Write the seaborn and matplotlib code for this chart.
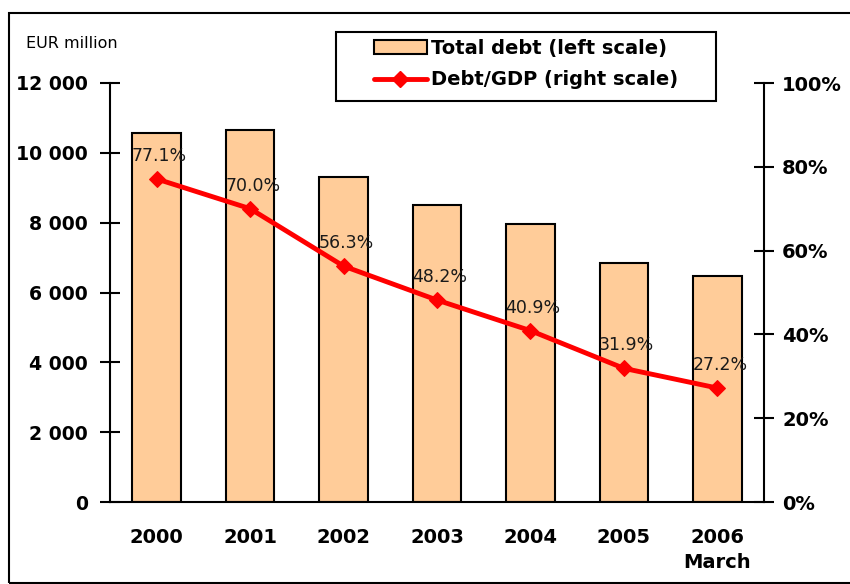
import matplotlib
matplotlib.use("Agg")
import matplotlib.pyplot as plt
import seaborn as sns
import pandas as pd
from matplotlib.patches import Rectangle, Patch
from matplotlib.lines import Line2D

years = ["2000", "2001", "2002", "2003", "2004", "2005", "2006\nMarch"]
total_debt = [10570, 10660, 9310, 8510, 7965, 6850, 6475]
debt_gdp = [77.1, 70.0, 56.3, 48.2, 40.9, 31.9, 27.2]
left_ticks = [0, 2000, 4000, 6000, 8000, 10000, 12000]
right_ticks = [0, 20, 40, 60, 80, 100]

sns.set_style("white")
plt.rcParams['font.family'] = ['DejaVu Sans']
plt.rcParams['text.color'] = 'black'
plt.rcParams['xtick.color'] = 'black'
plt.rcParams['ytick.color'] = 'black'
plt.rcParams['axes.labelcolor'] = 'black'

df = pd.DataFrame({"year": years, "debt": total_debt, "ratio": debt_gdp})

fig = plt.figure(figsize=(8.5, 5.84), dpi=100)
ax = fig.add_axes([110/850, 1-502/584, (764-110)/850, (502-83)/584])

sns.barplot(data=df, x="year", y="debt", ax=ax, color="#FFCC99", saturation=1,
            edgecolor="black", linewidth=1.5, width=0.52)
ax.set_xlim(-0.5, 6.5)
ax.set_ylim(0, 12000)
ax.set_yticks(left_ticks)
ax.set_yticklabels([f"{v:,}".replace(",", " ") for v in left_ticks],
                   fontsize=13.6, fontweight="bold")
ax.set_xlabel("")
ax.set_ylabel("")
ax.tick_params(axis="y", direction="inout", length=14, width=1.5, pad=9, colors="black")
ax.set_xticks(range(len(years)))
ax.set_xticklabels(years, fontsize=14, fontweight="bold", linespacing=1.45)
ax.tick_params(axis="x", which="major", length=0, pad=18.5, colors="black")
ax.set_xticks([i - 0.5 for i in range(len(years) + 1)], minor=True)
ax.tick_params(axis="x", which="minor", direction="out", length=8, width=1.5, colors="black")
for s in ["top", "right"]:
    ax.spines[s].set_visible(False)
for s in ["left", "bottom"]:
    ax.spines[s].set_linewidth(1.5)
    ax.spines[s].set_color("black")

ax2 = ax.twinx()
sns.lineplot(data=df, x="year", y="ratio", ax=ax2, color="red", linewidth=3.5,
             marker="D", markersize=8, markeredgecolor="red", sort=False)
ax2.set_ylim(0, 100)
ax2.set_yticks(right_ticks)
ax2.set_yticklabels([f"{v}%" for v in right_ticks], fontsize=14, fontweight="bold")
ax2.tick_params(axis="y", direction="inout", length=14, width=1.5, pad=6, colors="black")
ax2.set_ylabel("")
for s in ["top", "left", "bottom"]:
    ax2.spines[s].set_visible(False)
ax2.spines["right"].set_linewidth(1.5)
ax2.spines["right"].set_color("black")
if ax2.get_legend():
    ax2.get_legend().remove()

for i, v in enumerate(debt_gdp):
    ax2.annotate(f"{v:.1f}%", (i, v), xytext=(2, 10), textcoords="offset points",
                 ha="center", va="bottom", fontsize=12.5, color="#1a1a1a")

fig.text(26/850, 1-44/584, "EUR million", fontsize=11.5, va="center", ha="left")

handles = [Patch(facecolor="#FFCC99", edgecolor="black", linewidth=1.5),
           Line2D([0], [0], color="red", lw=3.5, marker="D", markersize=8)]
leg = fig.legend(handles, ["Total debt (left scale)", "Debt/GDP (right scale)"],
                 loc="center left", bbox_to_anchor=(374/850, 1-64/584),
                 prop={"weight": "bold", "size": 14}, frameon=False,
                 handlelength=2.7, handletextpad=0.25,
                 borderpad=0, labelspacing=0.65, borderaxespad=0)
fig.add_artist(Rectangle((336/850, 1-101/584), (716-336)/850, 69/584,
                         transform=fig.transFigure, fill=False,
                         edgecolor="black", linewidth=1.5))

fig.add_artist(Rectangle((9/850, 1/584), 845/850, 570/584, transform=fig.transFigure,
                         fill=False, edgecolor="black", linewidth=1.5))

fig.savefig("out.png", dpi=100)
